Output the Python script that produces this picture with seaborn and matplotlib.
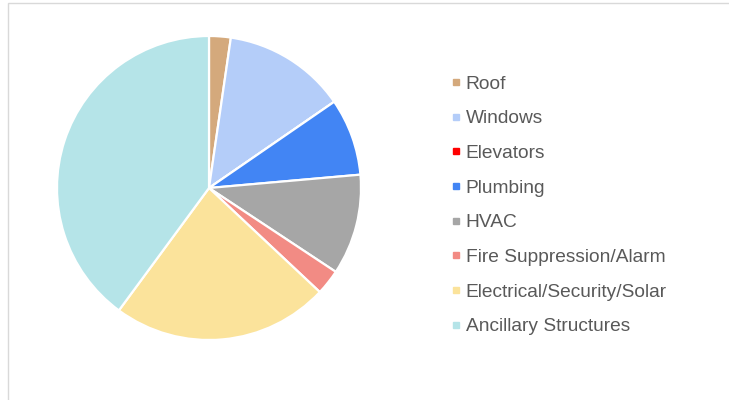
import matplotlib
matplotlib.use("Agg")
import matplotlib.pyplot as plt
import seaborn as sns
from matplotlib.lines import Line2D
from matplotlib.patches import Rectangle

# Share of each building component (percent)
categories = ["Roof", "Windows", "Elevators", "Plumbing", "HVAC",
              "Fire Suppression/Alarm", "Electrical/Security/Solar",
              "Ancillary Structures"]
shares = [2.3, 13.1, 0.0, 8.2, 10.7, 2.7, 23.1, 39.9]
colors = ["#D4A97C", "#B4CDF9", "#FF0000", "#4285F4", "#A6A6A6",
          "#F28B84", "#FBE39B", "#B5E4E8"]

sns.set_theme(style="white")
plt.rcParams['font.family'] = ['Liberation Sans', 'DejaVu Sans']

fig = plt.figure(figsize=(7.29, 4.0), dpi=100)

# light grey chart frame
fig.patches.append(Rectangle((8 / 729, -0.01), 1.0, 1 - 3 / 400 + 0.01,
                             transform=fig.transFigure, fill=False,
                             edgecolor="#D9D9D9", linewidth=1.0))

# pie axes: centre (209,188) px, radius ~152 px
r = 152
ax = fig.add_axes([(209 - r) / 729, 1 - (188 + r) / 400, 2 * r / 729, 2 * r / 400])
ax.pie(shares, colors=sns.color_palette(colors), startangle=90, counterclock=False,
       wedgeprops={"edgecolor": "white", "linewidth": 1.6})
ax.set_aspect("auto")
ax.set_xlim(-1, 1)
ax.set_ylim(-1, 1)
ax.axis("off")

# legend on the right
handles = [Line2D([], [], marker="s", linestyle="none", markersize=4.5,
                  markerfacecolor=c, markeredgecolor=c) for c in colors]
leg = fig.legend(handles, categories, loc="upper left",
                 bbox_to_anchor=(435 / 729, 1 - 58 / 400), frameon=False,
                 fontsize=13.8, labelspacing=0.9, handletextpad=0.3,
                 handlelength=0.4)
for t in leg.get_texts():
    t.set_color("#595959")

fig.savefig("out.png", dpi=100)
